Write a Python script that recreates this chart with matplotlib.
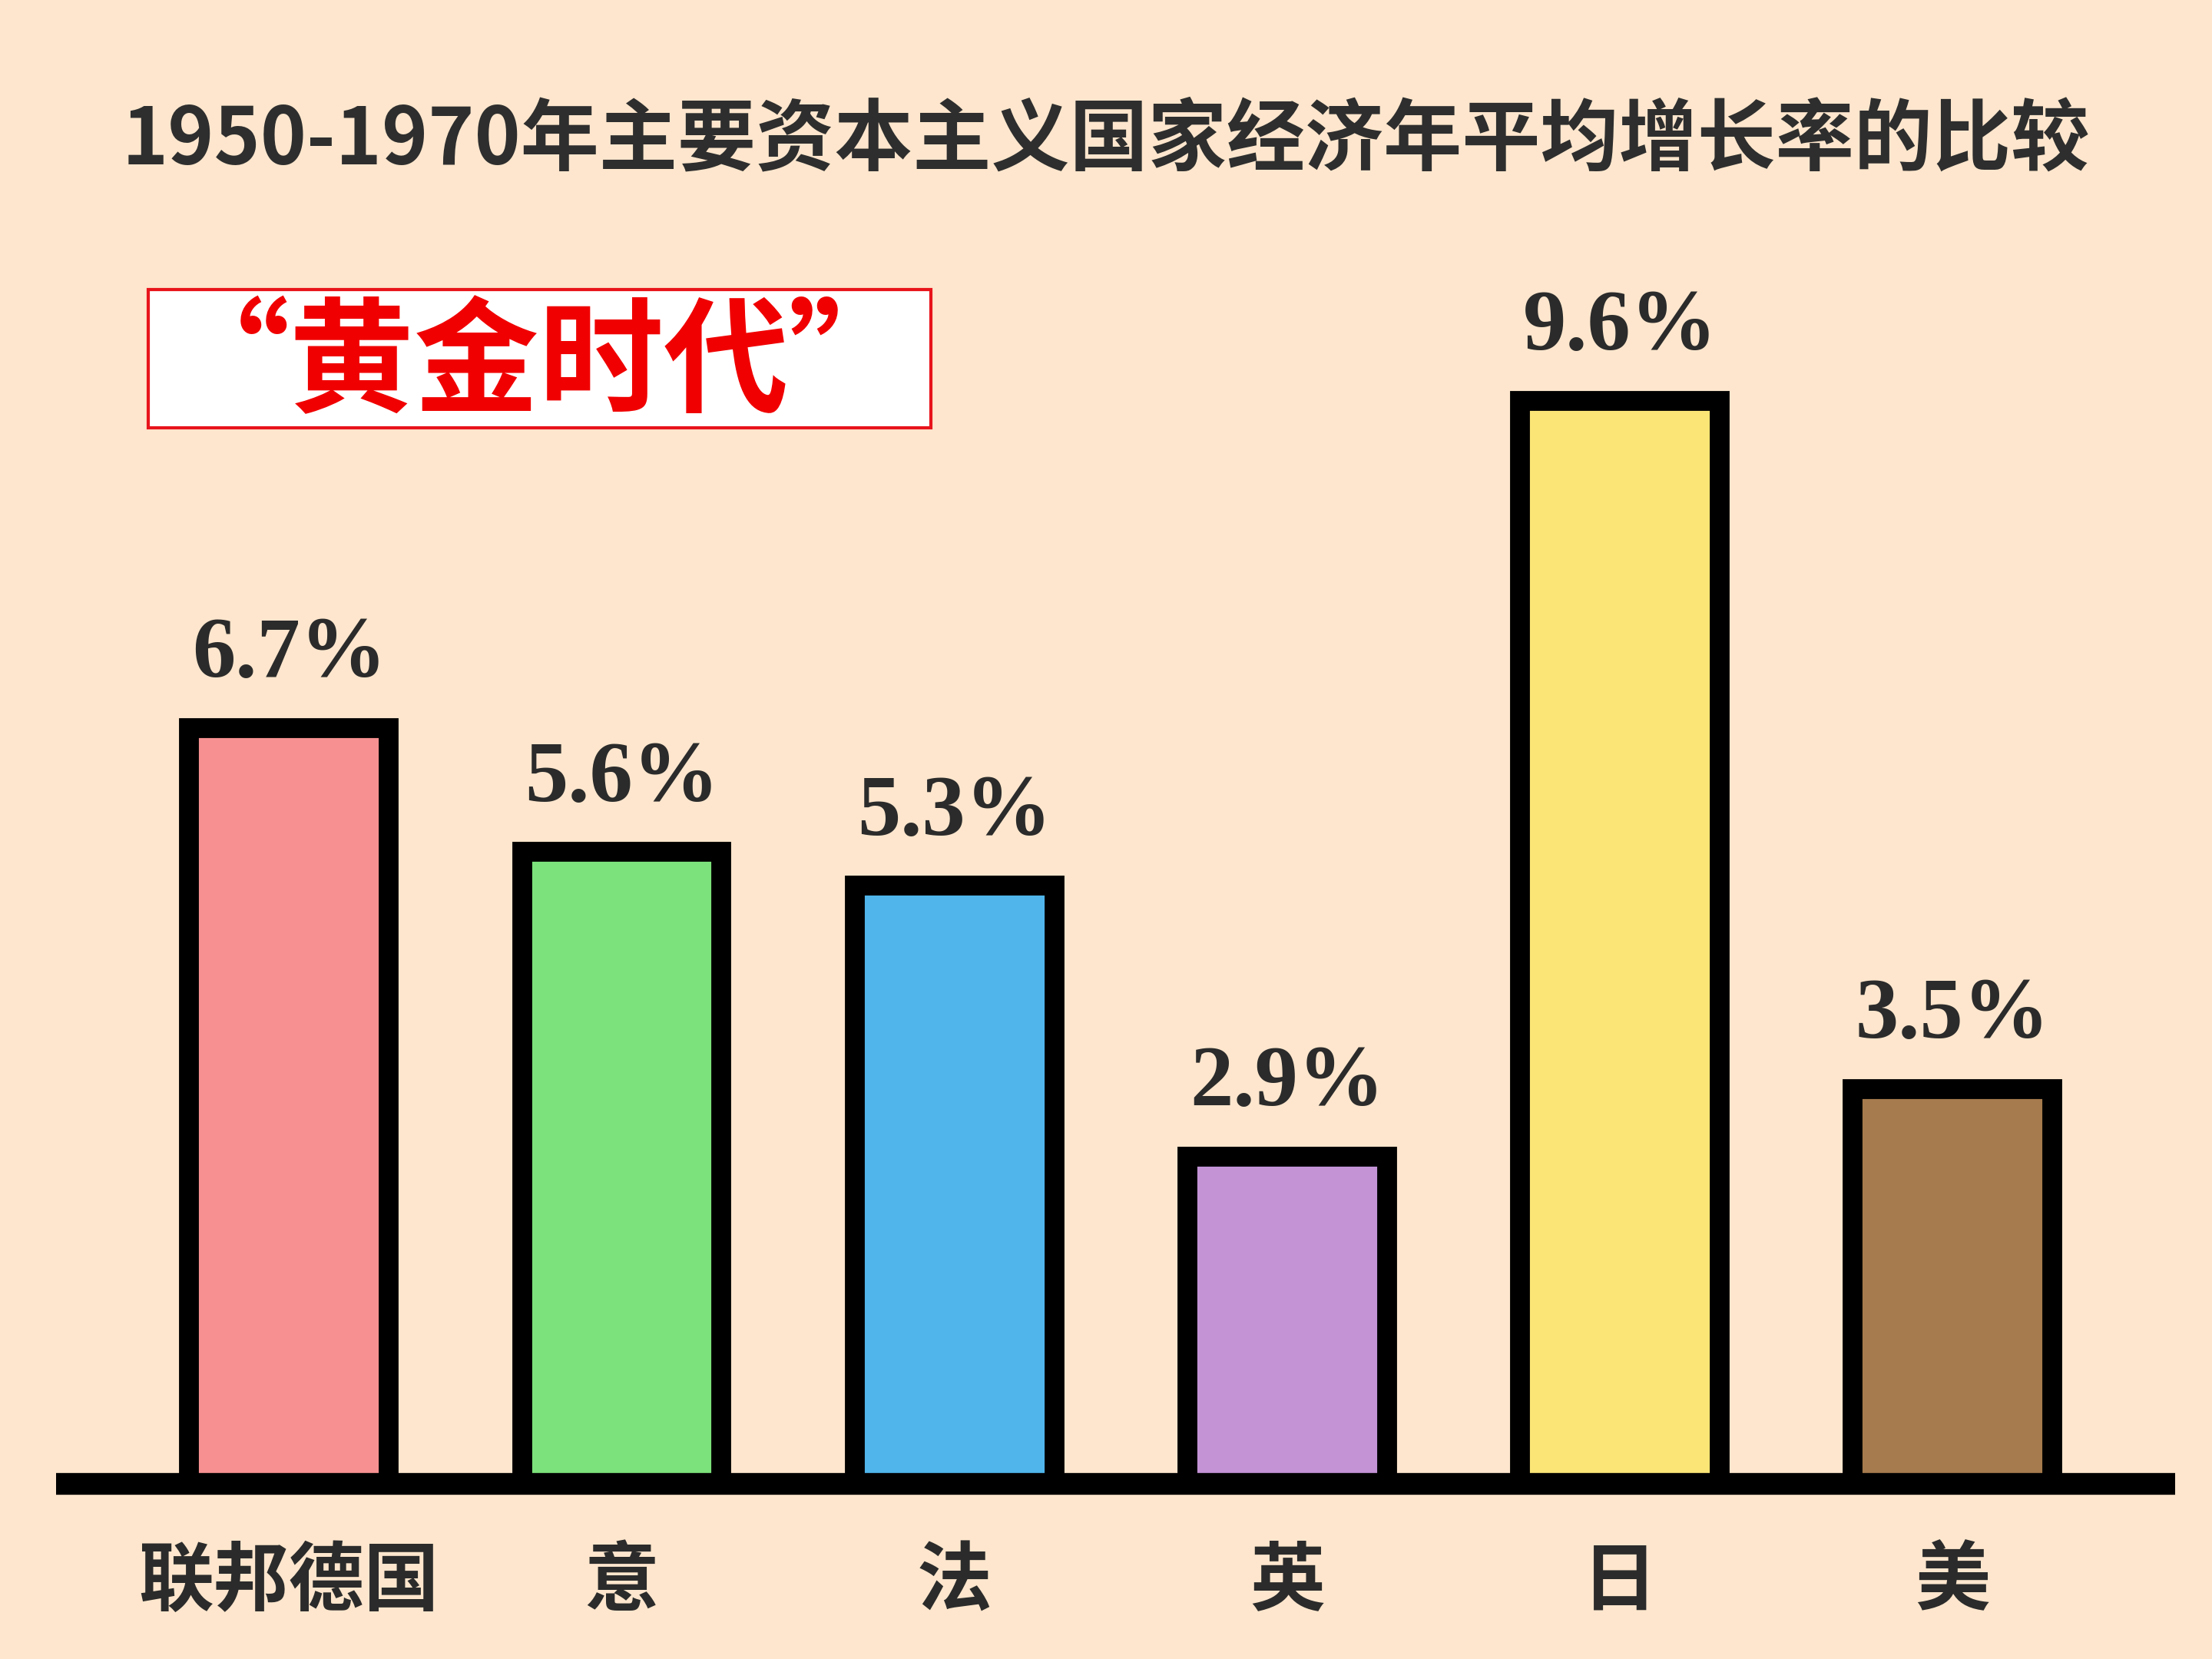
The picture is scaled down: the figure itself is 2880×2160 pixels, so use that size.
import matplotlib.pyplot as plt
from matplotlib.patches import Rectangle

plt.rcParams['font.family'] = ['Noto Sans CJK SC', 'DejaVu Sans']

# data
countries = ['联邦德国', '意', '法', '英', '日', '美']
growth = [6.7, 5.6, 5.3, 2.9, 9.6, 3.5]
value_labels = ['6.7%', '5.6%', '5.3%', '2.9%', '9.6%', '3.5%']
colors = ['#F79191', '#7CE27B', '#4FB5EB', '#C393D6', '#FAE576', '#A67B4D']

title = '1950-1970年主要资本主义国家经济年平均增长率的比较'
badge = '“黄金时代”'

bg = '#FDE6CD'

fig = plt.figure(figsize=(9.6, 7.2), dpi=300, facecolor=bg)
ax = fig.add_axes([0, 0, 1, 1])
ax.set_facecolor(bg)
ax.set_xlim(-0.869, 5.780)
ax.set_ylim(-1.55, 13.15)
ax.axis('off')

x = list(range(len(countries)))
ax.bar(x, growth, width=0.6, color=colors, edgecolor='black', linewidth=6.2, zorder=2)

# thick base line
ax.plot([-0.70, 5.67], [0, 0], color='black', linewidth=6.8,
        solid_capstyle='butt', zorder=3)

for xi, v, lab in zip(x, growth, value_labels):
    ax.annotate(lab, (xi, v), xytext=(0, 16), textcoords='offset points',
                ha='center', va='baseline', fontsize=27, fontweight='bold',
                family='Liberation Serif', color='#2b2b2b')

for xi, name in zip(x, countries):
    ax.text(xi, -0.87, name, ha='center', va='center', fontsize=23.5,
            fontweight='bold', color='#2b2b2b')

fig.text(0.5, 0.915, title, ha='center', va='center', fontsize=24.5,
         fontweight='bold', color='#2e2e2e')

# red "golden age" box
fig.patches.append(Rectangle((0.067, 0.742), 0.354, 0.0833, transform=fig.transFigure,
                             facecolor='white', edgecolor='#E8141B', linewidth=1.0))
fig.text(0.244, 0.779, badge, ha='center', va='center', fontsize=39,
         fontweight='bold', color='#F00000')

fig.savefig('out.png', dpi=300, facecolor=bg)
